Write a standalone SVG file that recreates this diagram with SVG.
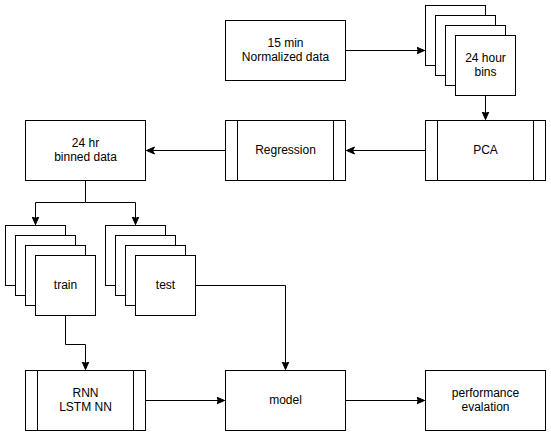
<svg xmlns="http://www.w3.org/2000/svg" width="551" height="436" viewBox="0 0 551 436">
<style>
.b{fill:#fff;stroke:#000;stroke-width:1}
.l{fill:none;stroke:#000;stroke-width:1}
.t{font-family:"Liberation Sans",Arial,sans-serif;font-size:12px;fill:#000;text-anchor:middle}
</style>
<defs>
<marker id="a" markerUnits="userSpaceOnUse" markerWidth="10" markerHeight="10" refX="8" refY="4" orient="auto">
<path d="M0,0.5 L8,4 L0,7.5 L2,4 z" fill="#000" stroke="#000" stroke-width="1"/>
</marker>
</defs>
<rect width="551" height="436" fill="#fff"/>
<g transform="translate(0.5,0.5)">
<g id="connectors">
<path class="l" d="M345,50 L424,50" marker-end="url(#a)"/>
<path class="l" d="M485,95 L485,119" marker-end="url(#a)"/>
<path class="l" d="M425,150 L346,150" marker-end="url(#a)"/>
<path class="l" d="M225,150 L146,150" marker-end="url(#a)"/>
<path class="l" d="M85,180 L85,202 L35,202 L35,224" marker-end="url(#a)"/>
<path class="l" d="M85,202 L135,202 L135,224" marker-end="url(#a)"/>
<path class="l" d="M65,315 L65,344 L85,344 L85,369" marker-end="url(#a)"/>
<path class="l" d="M195,285 L285,285 L285,369" marker-end="url(#a)"/>
<path class="l" d="M145,400 L224,400" marker-end="url(#a)"/>
<path class="l" d="M345,400 L424,400" marker-end="url(#a)"/>
</g>
<g id="normalized">
<rect class="b" x="225" y="20" width="120" height="60"/>
<text class="t" x="285" y="46">15 min</text>
<text class="t" x="285" y="60">Normalized data</text>
</g>
<g id="bins">
<rect class="b" x="425" y="5" width="60" height="60"/>
<rect class="b" x="435" y="15" width="60" height="60"/>
<rect class="b" x="445" y="25" width="60" height="60"/>
<rect class="b" x="455" y="35" width="60" height="60"/>
<text class="t" x="485" y="61">24 hour</text>
<text class="t" x="485" y="75">bins</text>
</g>
<g id="pca">
<rect class="b" x="425" y="120" width="120" height="60"/>
<path class="l" d="M437,120 L437,180 M533,120 L533,180"/>
<text class="t" x="485" y="153">PCA</text>
</g>
<g id="regression">
<rect class="b" x="225" y="120" width="120" height="60"/>
<path class="l" d="M237,120 L237,180 M333,120 L333,180"/>
<text class="t" x="285" y="153">Regression</text>
</g>
<g id="binned">
<rect class="b" x="25" y="120" width="120" height="60"/>
<text class="t" x="85" y="146">24 hr</text>
<text class="t" x="85" y="160">binned data</text>
</g>
<g id="train">
<rect class="b" x="5" y="225" width="60" height="60"/>
<rect class="b" x="15" y="235" width="60" height="60"/>
<rect class="b" x="25" y="245" width="60" height="60"/>
<rect class="b" x="35" y="255" width="60" height="60"/>
<text class="t" x="65" y="288">train</text>
</g>
<g id="test">
<rect class="b" x="105" y="225" width="60" height="60"/>
<rect class="b" x="115" y="235" width="60" height="60"/>
<rect class="b" x="125" y="245" width="60" height="60"/>
<rect class="b" x="135" y="255" width="60" height="60"/>
<text class="t" x="165" y="288">test</text>
</g>
<g id="rnn">
<rect class="b" x="25" y="370" width="120" height="60"/>
<path class="l" d="M37,370 L37,430 M133,370 L133,430"/>
<text class="t" x="85" y="396">RNN</text>
<text class="t" x="85" y="410">LSTM NN</text>
</g>
<g id="model">
<rect class="b" x="225" y="370" width="120" height="60"/>
<text class="t" x="285" y="403">model</text>
</g>
<g id="performance">
<rect class="b" x="425" y="370" width="120" height="60"/>
<text class="t" x="485" y="396">performance</text>
<text class="t" x="485" y="410">evalation</text>
</g>
</g>
</svg>
